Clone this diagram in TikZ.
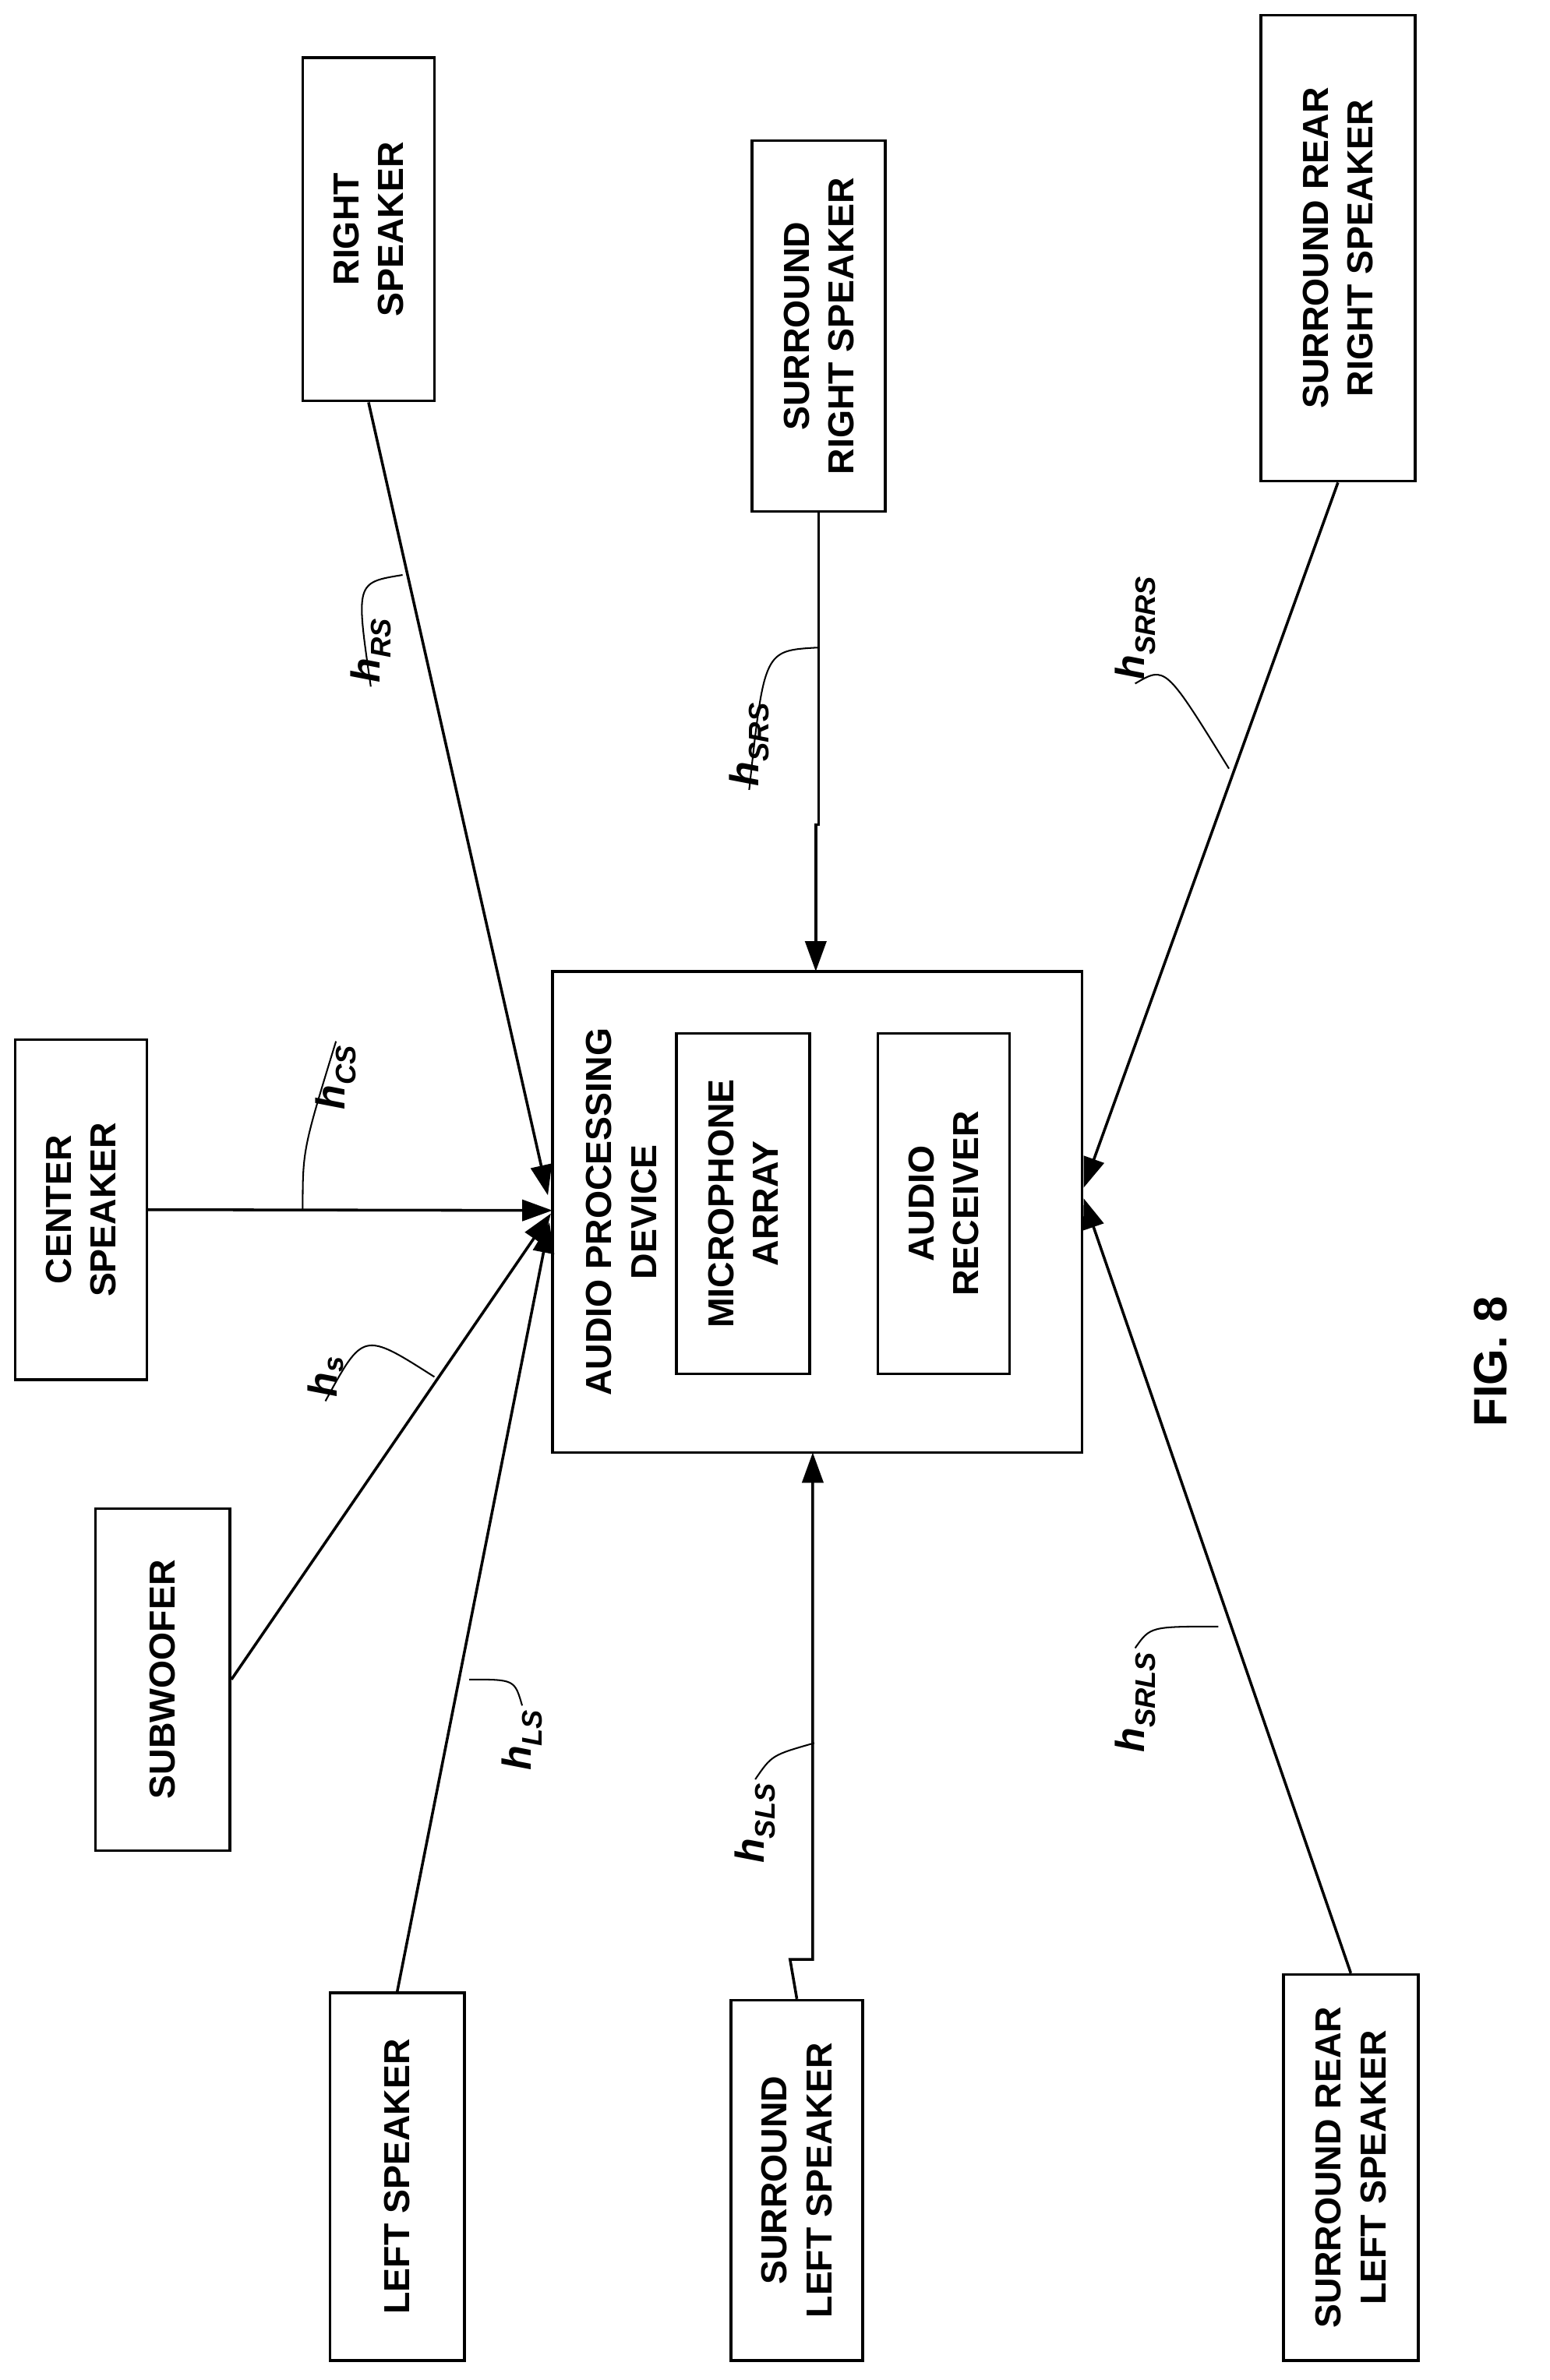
\documentclass[tikz,border=0pt]{standalone}
\usepackage{fontspec}
\setmainfont{Liberation Sans}
\usetikzlibrary{arrows.meta}
\begin{document}
\begin{tikzpicture}[x=0.5mm,y=-0.5mm,
  box/.style={draw,line width=2.6pt,inner sep=0pt},
  txt/.style={rotate=90,align=center,font=\fontsize{34}{42}\selectfont\bfseries},
  lab/.style={rotate=90,font=\fontsize{38}{42}\selectfont\bfseries\itshape},
  con/.style={line width=2.6pt},
  arr/.style={con,-{Triangle[length=10mm,width=7mm]}},
  tie/.style={line width=1.5pt}]
\useasboundingbox (0,0) rectangle (1024,1573);
\def\bx#1#2#3#4#5#6{\node[box,minimum width=#4*0.5mm-#2*0.5mm,minimum height=#5*0.5mm-#3*0.5mm] (#1) at ({(#2+#4)/2},{(#3+#5)/2}) {};\node[txt] at (#1) {#6};}
\bx{rs}{200}{38}{287}{265}{RIGHT\\SPEAKER}
\bx{srs}{497}{93}{585}{338}{SURROUND\\RIGHT SPEAKER}
\bx{srrs}{833}{10}{935}{318}{SURROUND REAR\\RIGHT SPEAKER}
\bx{cs}{10}{687}{97}{912}{CENTER\\SPEAKER}
\node[box,minimum width=175mm,minimum height=159mm] (apd) at (540,801) {};
\node[txt,anchor=north] at (385,801) {AUDIO PROCESSING\\DEVICE};
\bx{mic}{447}{683}{535}{908}{MICROPHONE\\ARRAY}
\bx{rec}{580}{683}{667}{908}{AUDIO\\RECEIVER}
\bx{sub}{63}{997}{152}{1223}{SUBWOOFER}
\bx{ls}{218}{1317}{307}{1560}{LEFT SPEAKER}
\bx{sls}{483}{1322}{570}{1560}{SURROUND\\LEFT SPEAKER}
\bx{srls}{848}{1305}{937}{1560}{SURROUND REAR\\LEFT SPEAKER}
\node[rotate=90,font=\fontsize{44}{50}\selectfont\bfseries] (fig) at (985,900) {FIG. 8};
\coordinate (srsj) at (541,545);
\coordinate (srsk) at (539,545);
\coordinate (slsj) at (522,1295);
\coordinate (slsk) at (537,1295);
\draw[arr] (rs.south) -- (362,790);
\draw[arr] (srs.south) -- (srsj) -- (srsk) -- (539,642);
\draw[arr] (srrs.south) -- (716,785);
\draw[arr] (cs.east) -- (365,800);
\draw[arr] (sub.east) -- (364,802);
\draw[arr] (ls.north) -- (363,808);
\draw[arr] (sls.north) -- (slsj) -- (slsk) -- (537,960);
\draw[arr] (srls.north) -- (716,792);
% labels
\node[lab] (lcs) at (222,712) {h\textsubscript{CS}};
\node[lab] (lrs) at (245,430) {h\textsubscript{RS}};
\node[lab] (lsrs) at (495,492) {h\textsubscript{SRS}};
\node[lab] (lsrrs) at (750,415) {h\textsubscript{SRRS}};
\node[lab] (ls2) at (215,910) {h\textsubscript{s}};
\node[lab] (lls) at (345,1150) {h\textsubscript{LS}};
\node[lab] (lsls) at (499,1205) {h\textsubscript{SLS}};
\node[lab] (lsrls) at (750,1125) {h\textsubscript{SRLS}};
\draw[tie] (lcs.east) .. controls (200,760) .. (200,800);
\draw[tie] (lrs.west) .. controls (235,385) .. (266,380);
\draw[tie] (lsrs.west) .. controls (505,430) .. (540,428);
\draw[tie] (lsrrs.west) .. controls (770,440) .. (812,508);
\draw[tie] (ls2.west) .. controls (240,880) .. (287,910);
\draw[tie] (lls.east) .. controls (340,1110) .. (310,1110);
\draw[tie] (lsls.east) .. controls (510,1160) .. (538,1152);
\draw[tie] (lsrls.east) .. controls (760,1075) .. (805,1075);
\end{tikzpicture}
\end{document}
